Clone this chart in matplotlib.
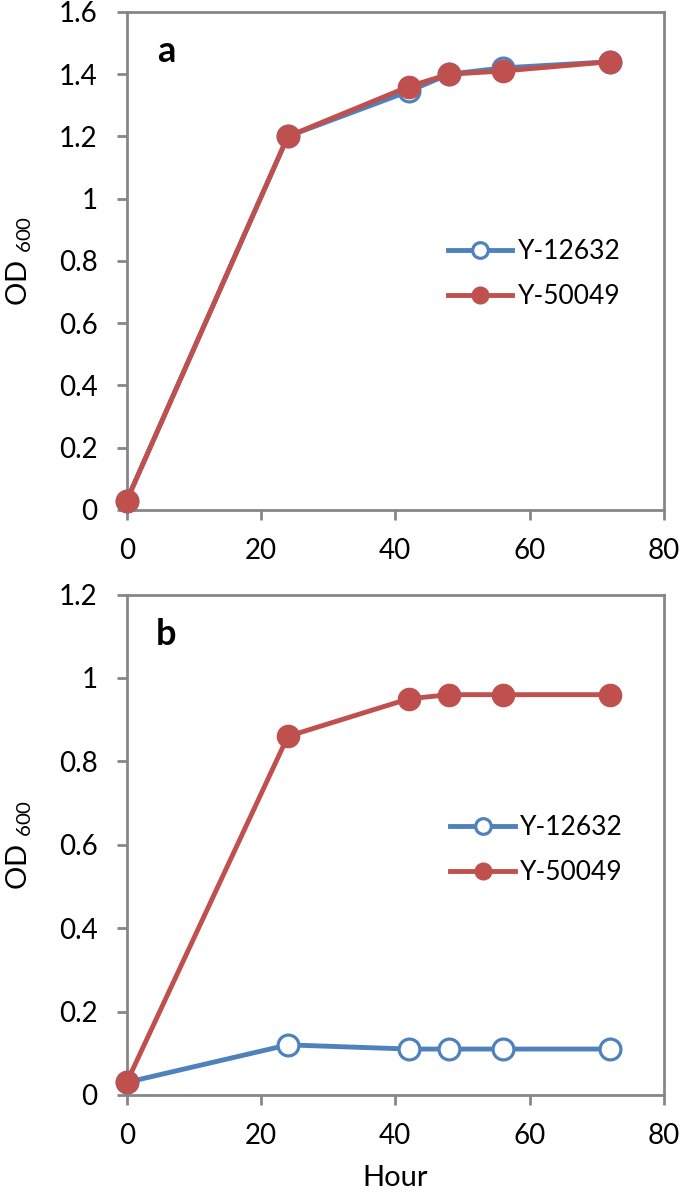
import numpy as np
import matplotlib
matplotlib.use("Agg")
from matplotlib import pyplot as plt

plt.rcParams['font.family'] = ['Lato', 'DejaVu Sans']
plt.rcParams['mathtext.default'] = 'regular'

hours = [0, 24, 42, 48, 56, 72]

# panel a
a_12632 = [0.03, 1.20, 1.345, 1.40, 1.42, 1.44]
a_50049 = [0.03, 1.20, 1.36, 1.40, 1.41, 1.44]

# panel b
b_12632 = [0.03, 0.12, 0.11, 0.11, 0.11, 0.11]
b_50049 = [0.03, 0.86, 0.95, 0.96, 0.96, 0.96]

names = ["Y-12632", "Y-50049"]
blue = "#4F81BD"
red = "#C0504D"
gray = "#868686"

fig = plt.figure(figsize=(6.85, 11.94), dpi=100)
ax_a = fig.add_axes([0.185, 0.573, 0.784, 0.417])
ax_b = fig.add_axes([0.185, 0.083, 0.784, 0.419])

panels = [
    (ax_a, a_12632, a_50049, 1.6, 0.2, "a", (0.578, 0.565)),
    (ax_b, b_12632, b_50049, 1.2, 0.2, "b", (0.583, 0.58)),
]

for ax, s1, s2, ymax, ystep, tag, legpos in panels:
    ax.plot(hours, s1, color=blue, lw=3.5, marker='o', ms=15,
            mfc='white', mec=blue, mew=2.3, label=names[0], zorder=3,
            clip_on=False)
    ax.plot(hours, s2, color=red, lw=3.5, marker='o', ms=16,
            mfc=red, mec=red, label=names[1], zorder=4, clip_on=False)
    ax.set_xlim(0, 80)
    ax.set_ylim(0, ymax)
    ax.set_xticks(np.arange(0, 81, 20))
    yt = np.round(np.arange(0, ymax + 0.001, ystep), 1)
    ax.set_yticks(yt)
    ax.set_yticklabels(['%g' % v for v in yt])
    for sp in ax.spines.values():
        sp.set_color(gray)
        sp.set_linewidth(2)
    ax.tick_params(axis='both', colors=gray, width=2, length=7,
                   direction='out', labelsize=20, labelcolor='black')
    ax.tick_params(axis='x', pad=13)
    ax.tick_params(axis='y', pad=14)
    ax.set_ylabel('OD $_{600}$', fontsize=21)
    ax.yaxis.set_label_coords(-0.172, 0.5)
    ax.text(0.073, 0.92, tag, transform=ax.transAxes, fontsize=26,
            fontweight='bold', ha='center', va='center')
    ax.legend(loc='upper left', bbox_to_anchor=legpos, frameon=False,
              fontsize=19, handlelength=2.45, labelspacing=0.75,
              handletextpad=0.2, borderaxespad=0, markerscale=0.75)

ax_b.set_xlabel('Hour', fontsize=21, labelpad=12)

fig.savefig("out.png", dpi=100)
